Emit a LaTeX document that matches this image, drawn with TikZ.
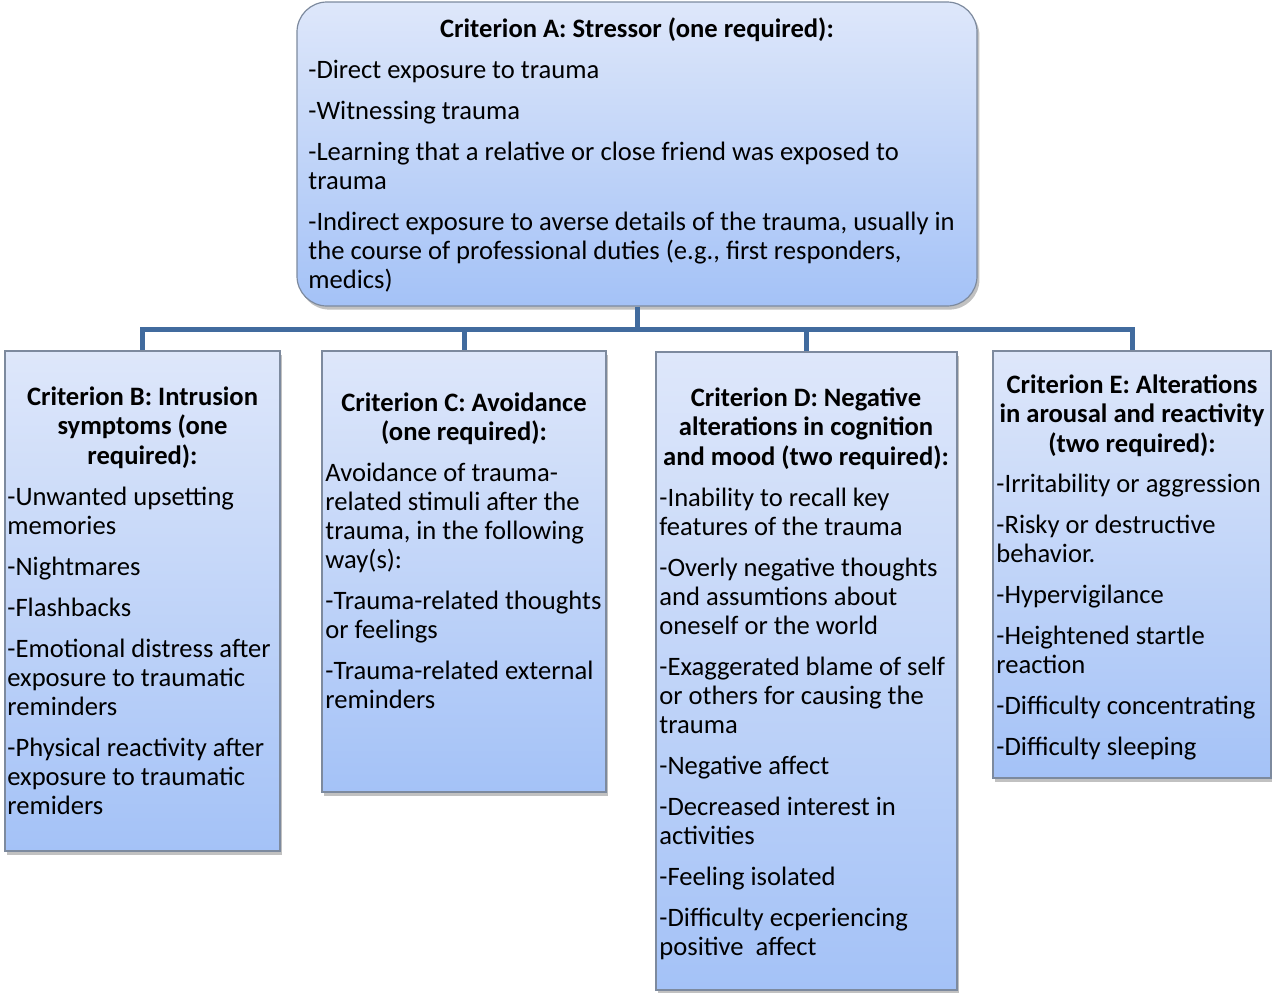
\documentclass[tikz,border=0pt]{standalone}
\usepackage{fontspec}
\setmainfont{Carlito}
\usetikzlibrary{fit,shadows}
\definecolor{boxtop}{RGB}{222,231,250}
\definecolor{boxbot}{RGB}{164,194,247}
\definecolor{boxline}{RGB}{125,138,158}
\definecolor{conncol}{RGB}{65,107,158}
\newcommand{\mystrut}{\rule{0pt}{10pt}}
\tikzset{
  box/.style={draw=boxline, line width=0.6pt, top color=boxtop, bottom color=boxbot,
    inner sep=0pt, drop shadow={shadow xshift=1.2pt, shadow yshift=-1.8pt, opacity=0.35, fill=black!70}},
  conn/.style={draw=conncol, line width=2.5pt, line join=miter},
  ttl/.style={font=\fontsize{13.3}{14.75}\selectfont\bfseries, align=center, anchor=north, inner sep=0pt},
  body/.style={font=\fontsize{13.3}{14.5}\selectfont, align=left, anchor=north west, inner sep=0pt}
}
\begin{document}
\begin{tikzpicture}[x=0.5pt,y=-0.5pt]
\useasboundingbox (0,0) rectangle (1272,992);
% boxes
\node[box, rounded corners=15pt, fit={(297,2) (977,306)}] (A) {};
\node[box, fit={(5,351) (280,851)}] (B) {};
\node[box, fit={(322,351) (606,792)}] (C) {};
\node[box, fit={(656,352) (957,990)}] (D) {};
\node[box, fit={(993,351) (1271,778)}] (E) {};
% connectors
\coordinate (J) at ([yshift=-11.5pt]A.south);
\draw[conn] (A.south) -- (J) -| (B.north);
\draw[conn] (J) -| (C.north);
\draw[conn] (J) -| (D.north);
\draw[conn] (J) -| (E.north);
% texts
\node[ttl] (At) at (637,17) {\mystrut Criterion A: Stressor (one required):};
\node[body] (Ab) at (308,58) {\mystrut -Direct exposure to trauma\\[6pt]
-Witnessing trauma\\[6pt]
-Learning that a relative or close friend was exposed to\\
trauma\\[6pt]
-Indirect exposure to averse details of the trauma, usually in\\
the course of professional duties (e.g., first responders,\\
medics)};
\node[ttl] (Bt) at (142.5,385) {\mystrut Criterion B: Intrusion\\ symptoms (one\\ required):};
\node[body] (Bb) at (7,485) {\mystrut -Unwanted upsetting\\
memories\\[6pt]
-Nightmares\\[6pt]
-Flashbacks\\[6pt]
-Emotional distress after\\
exposure to traumatic\\
reminders\\[6pt]
-Physical reactivity after\\
exposure to traumatic\\
remiders};
\node[ttl] (Ct) at (464,391) {\mystrut Criterion C: Avoidance\\ (one required):};
\node[body] (Cb) at (325,461) {\mystrut Avoidance of trauma-\\
related stimuli after the\\
trauma, in the following\\
way(s):\\[6pt]
-Trauma-related thoughts\\
or feelings\\[6pt]
-Trauma-related external\\
reminders};
\node[ttl] (Dt) at (806,386) {\mystrut Criterion D: Negative\\ alterations in cognition\\ and mood (two required):};
\node[body] (Db) at (659,486) {\mystrut -Inability to recall key\\
features of the trauma\\[6pt]
-Overly negative thoughts\\
and assumtions about\\
oneself or the world\\[6pt]
-Exaggerated blame of self\\
or others for causing the\\
trauma\\[6pt]
-Negative affect\\[6pt]
-Decreased interest in\\
activities\\[6pt]
-Feeling isolated\\[6pt]
-Difficulty ecperiencing\\
positive\ \ affect};
\node[ttl] (Et) at (1132,373) {\mystrut Criterion E: Alterations\\ in arousal and reactivity\\ (two required):};
\node[body] (Eb) at (996,472) {\mystrut -Irritability or aggression\\[6pt]
-Risky or destructive\\
behavior.\\[6pt]
-Hypervigilance\\[6pt]
-Heightened startle\\
reaction\\[6pt]
-Difficulty concentrating\\[6pt]
-Difficulty sleeping};
\end{tikzpicture}
\end{document}
